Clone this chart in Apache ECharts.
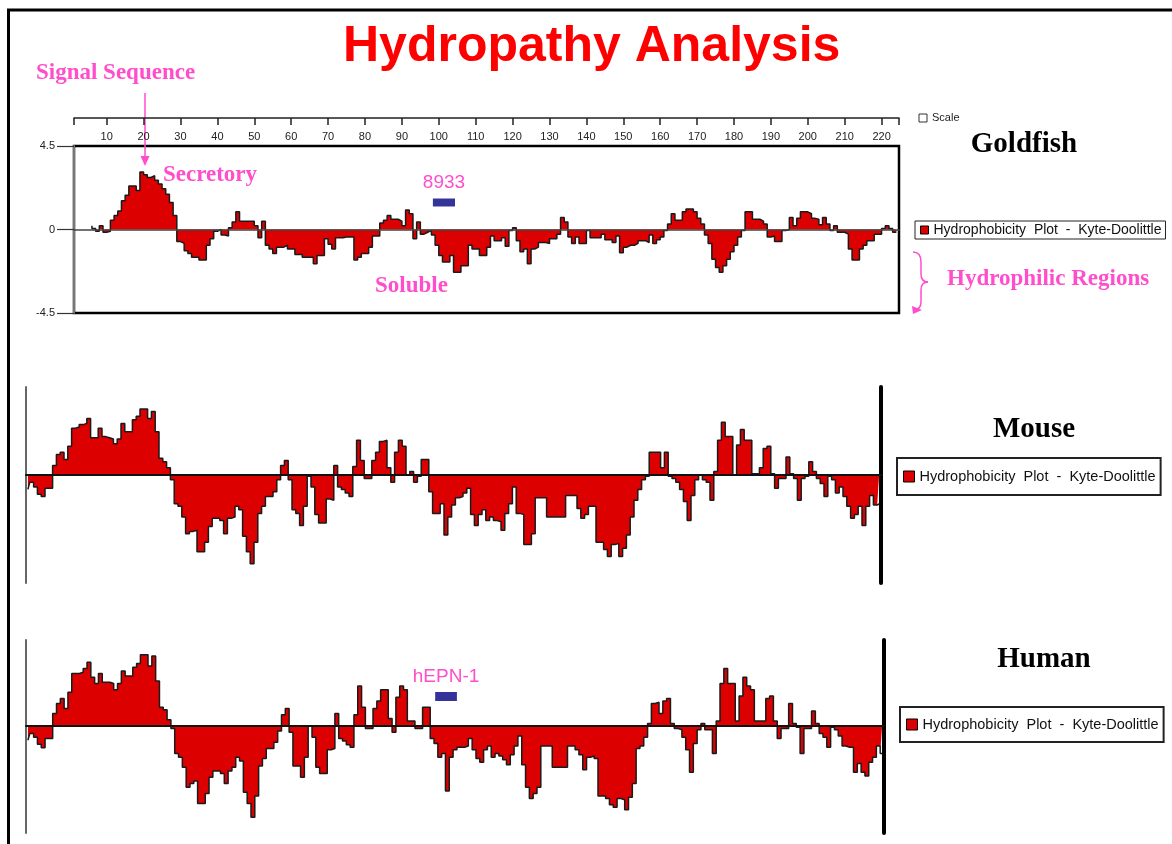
<!DOCTYPE html>
<html>
<head>
<meta charset="utf-8">
<script src="https://cdn.jsdelivr.net/npm/echarts@6/dist/echarts.min.js"></script>
<style>
  html, body { margin: 0; padding: 0; background: #fff; }
  #main { width: 1172px; height: 844px; }
</style>
</head>
<body>
<div id="main"></div>
<script>
// Kyte-Doolittle values, one per residue
var goldfishStart = 6;
var goldfishKD = [
  0.2, 0.05, -0.1, 0.2, -0.15, -0.1, 0.5, 0.75, 1.0, 1.55,
  1.85, 2.35, 2.35, 2.1, 3.1, 2.95, 2.8, 2.9, 2.65, 2.45,
  2.2, 1.9, 1.45, 0.75, -0.65, -0.75, -1.15, -1.3, -1.5, -1.5,
  -1.65, -1.65, -0.85, -0.5, -0.1, 0, -0.3, -0.35, 0.1, 0.4,
  0.95, 0.45, 0.45, 0.45, 0.45, 0.2, -0.45, 0.45, -0.85, -1.05,
  -1.3, -0.95, -0.95, -0.85, -1.05, -1.05, -1.35, -1.35, -1.5, -1.5,
  -1.5, -1.85, -1.4, -1.4, -0.5, -0.8, -1.05, -0.45, -0.45, -0.4,
  -0.4, -0.4, -1.65, -1.5, -1.3, -1.3, -0.95, -0.35, -0.35, 0.35,
  0.5, 0.75, 0.55, 0.55, 0.45, 0.2, 1.05, 0.85, -0.5, 0.4,
  -0.25, -0.15, -0.05, -0.3, -0.85, -1.4, -1.75, -1.75, -1.4, -2.3,
  -2.3, -1.95, -1.95, -0.85, -1.05, -1.05, -1.4, -1.4, -0.95, -0.35,
  -0.6, -0.6, -0.45, -0.9, -0.05, 0.1, -0.6, -1.2, -1.05, -1.85,
  -1.05, -0.95, -0.7, -0.7, -0.75, -0.5, -0.5, -0.25, 0.65, 0.4,
  -0.4, -0.75, -0.4, -0.75, -0.75, -0.05, -0.45, -0.45, -0.45, -0.25,
  -0.55, -0.55, -0.7, -0.35, -1.25, -0.95, -0.85, -0.85, -0.75, -0.6,
  -0.6, -0.7, -0.3, -0.75, -0.55, -0.4, -0.05, 0.3, 0.85, 0.5,
  0.5, 0.95, 1.1, 1.1, 0.95, 0.6, 0.3, -0.3, -0.75, -1.6,
  -2.05, -2.3, -1.95, -1.6, -1.2, -0.85, -0.4, -0.05, 0.95, 0.95,
  0.55, 0.55, 0.45, 0.3, -0.4, -0.35, -0.65, -0.65, -0.05, 0,
  0.65, 0.2, 0.6, 0.95, 0.95, 0.85, 0.6, 0.55, 0.25, 0.65,
  0.3, -0.05, 0.2, -0.15, -0.15, -0.25, -1.05, -1.65, -1.65, -1.05,
  -0.85, -0.6, -0.6, -0.25, -0.25, 0.05, 0.2, 0.05, -0.15
];

var mouseStart = 1;
var mouseKD = [
  -0.6, -0.3, -0.5, -0.8, -0.9, -0.55, -0.55, 0.4, 0.85, 0.95,
  0.65, 1.2, 1.95, 2.0, 2.1, 2.15, 2.35, 1.55, 1.55, 1.95,
  1.6, 1.55, 1.5, 1.3, 1.5, 2.15, 1.8, 1.8, 2.3, 2.45,
  2.75, 2.75, 2.35, 2.65, 1.8, 0.7, 0.55, 0.3, -0.2, -1.2,
  -1.3, -1.75, -2.45, -2.35, -2.3, -3.2, -3.2, -2.8, -2.15, -1.8,
  -1.8, -1.9, -2.45, -1.8, -1.75, -1.3, -1.45, -2.55, -3.2, -3.7,
  -2.8, -1.6, -1.3, -0.9, -0.9, -0.7, -0.2, 0.4, 0.6, -0.2,
  -1.45, -1.6, -2.1, -1.3, -0.05, -0.5, -1.65, -2.0, -2.0, -1.0,
  -1.05, 0.4, -0.5, -0.6, -0.75, -0.9, 0.35, 1.45, 0.6, -0.15,
  -0.15, 0.6, 0.95, 1.4, 1.45, 0.3, -0.3, 0.95, 1.45, 1.2,
  0, 0.15, -0.3, -0.05, 0.65, 0.65, -0.7, -1.6, -1.6, -1.2,
  -2.5, -1.75, -1.25, -0.95, -0.9, -0.75, -0.55, -1.65, -2.1, -1.65,
  -1.45, -1.9, -1.75, -1.9, -1.95, -2.3, -1.6, -1.2, -0.5, -1.6,
  -1.65, -2.9, -2.9, -2.45, -0.95, -0.95, -0.95, -1.75, -1.75, -1.75,
  -1.75, -1.75, -0.85, -0.85, -0.85, -1.4, -1.8, -1.65, -1.3, -1.3,
  -2.8, -2.8, -3.1, -3.4, -2.9, -2.85, -3.4, -3.05, -2.5, -1.75,
  -1.05, -0.6, -0.2, -0.05, 0.95, 0.95, 0.95, 0.3, 0.95, -0.05,
  -0.15, -0.3, -0.6, -1.1, -1.9, -0.85, -0.2, 0, -0.2, -0.3,
  -1.05, 0.15, 1.45, 2.2, 1.6, 1.6, 0, 1.25, 1.9, 1.45,
  1.45, 0.05, 0.05, 0.3, 1.1, 1.2, 0.05, -0.55, -0.15, -0.15,
  0.75, 0.05, -0.15, -1.05, -0.15, -0.05, 0.55, 0.15, -0.15, -0.35,
  -0.9, -0.05, -0.2, -0.75, -0.5, -0.9, -1.3, -1.8, -1.65, -1.3,
  -2.1, -1.3, -0.85, -1.25, -1.2
];

var humanStart = 1;
var humanKD = [
  -0.57, -0.3, -0.45, -0.73, -0.87, -0.5, -0.5, 0.5, 0.9, 1.1,
  0.7, 1.35, 2.1, 2.1, 2.15, 2.3, 2.55, 1.95, 1.7, 2.1,
  1.75, 1.75, 1.7, 1.45, 1.7, 2.2, 2.0, 2.0, 2.35, 2.5,
  2.85, 2.85, 2.4, 2.8, 1.8, 0.75, 0.65, 0.25, -0.1, -1.1,
  -1.25, -1.65, -2.45, -2.3, -2.2, -3.1, -3.1, -2.7, -2.05, -1.8,
  -1.8, -1.9, -2.3, -1.8, -1.65, -1.25, -1.4, -2.65, -3.1, -3.65,
  -2.8, -1.6, -1.3, -0.9, -0.9, -0.65, -0.2, 0.45, 0.7, -0.25,
  -1.6, -1.6, -2.05, -1.25, 0, -0.45, -1.65, -1.9, -1.9, -0.95,
  -0.9, 0.5, -0.5, -0.6, -0.75, -0.85, 0.45, 1.6, 0.75, -0.1,
  -0.1, 0.7, 1.0, 1.45, 1.45, 0.3, -0.25, 1.15, 1.6, 1.45,
  0.2, 0.2, -0.1, -0.1, 0.75, 0.75, -0.5, -0.7, -1.25, -1.1,
  -2.6, -1.25, -0.95, -0.85, -0.85, -0.8, -0.5, -0.95, -1.3, -1.45,
  -0.95, -0.8, -1.25, -1.1, -1.2, -1.35, -1.55, -1.15, -0.8, -0.4,
  -1.55, -2.45, -2.9, -2.7, -2.45, -0.8, -0.8, -0.8, -1.65, -1.65,
  -1.65, -1.65, -0.8, -0.8, -0.95, -1.15, -1.75, -1.25, -1.2, -1.3,
  -2.8, -2.8, -2.9, -3.15, -3.25, -2.9, -2.95, -3.35, -2.85, -2.3,
  -0.9, -0.8, -0.45, 0.1, 0.9, 0.95, 0.5, 1.0, 1.1, 0.1,
  -0.1, -0.15, -0.45, -0.95, -1.85, -0.7, -0.15, 0.1, -0.15, -0.15,
  -1.1, 0.2, 1.7, 2.3, 1.7, 1.7, 0.2, 1.2, 1.95, 1.6,
  1.45, 0.2, 0.2, 0.2, 1.1, 1.2, 0.2, -0.5, -0.1, -0.1,
  0.9, 0.1, -0.05, -1.1, -0.1, -0.1, 0.6, 0.1, -0.3, -0.45,
  -0.85, -0.05, -0.15, -0.4, -0.8, -0.85, -0.85, -1.85, -1.5, -1.85,
  -2.0, -1.45, -1.25, -0.8, -1.1
];

var residueTicks = [10, 20, 30, 40, 50, 60, 70, 80, 90, 100, 110,
  120, 130, 140, 150, 160, 170, 180, 190, 200, 210, 220];

// peptide markers: [fromResidue, toResidue, lowValue, highValue]
var peptide8933 = [98.4, 104.4, 1.24, 1.67];
var peptideHEPN1 = [107.8, 113.5, 1.0, 1.36];

var seriesName = 'Hydrophobicity  Plot  -  Kyte-Doolittle';
var pink = '#ff4dcc';
var red = '#dc0000';

function pairs(start, arr) {
  return arr.map(function (v, i) { return [start + i, v]; });
}

function peptideArea(p, label) {
  return {
    silent: true,
    itemStyle: { color: '#333399', opacity: 1 },
    label: { show: true, position: 'top', distance: 6, color: pink, fontSize: 19, fontFamily: 'Liberation Sans, Arial' },
    data: [[{ name: label, xAxis: p[0], yAxis: p[3] }, { xAxis: p[1], yAxis: p[2] }]]
  };
}

function plotSeries(data, xi, yi, step, area) {
  var s = {
    name: seriesName,
    type: 'line',
    step: step,
    xAxisIndex: xi,
    yAxisIndex: yi,
    symbol: 'none',
    data: data,
    lineStyle: { color: '#1a1a1a', width: 1.5 },
    itemStyle: { color: red },
    areaStyle: { color: red, opacity: 1 }
  };
  if (area) s.markArea = area;
  return s;
}

function legendBox(left, top, pad, size, fontSize, bw) {
  return {
    data: [seriesName],
    left: left, top: top,
    padding: pad,
    borderColor: '#222', borderWidth: bw,
    icon: 'rect', itemWidth: size, itemHeight: size,
    itemStyle: { color: red, borderColor: '#000', borderWidth: 1 },
    selectedMode: false,
    textStyle: { fontSize: fontSize, fontFamily: 'Liberation Sans, Arial', color: '#111' }
  };
}

var zeroAxis = function (grid, min, max, color, width) {
  return {
    gridIndex: grid, type: 'value', min: min, max: max, z: 5,
    axisLine: { onZero: true, lineStyle: { color: color, width: width } },
    axisTick: { show: false }, axisLabel: { show: false }, splitLine: { show: false }
  };
};

var sideAxis = function (grid, min, max, pos, color, width) {
  return {
    gridIndex: grid, type: 'value', min: min, max: max, position: pos,
    axisLine: { show: true, onZero: false, lineStyle: { color: color, width: width } },
    axisTick: { show: false }, axisLabel: { show: false }, splitLine: { show: false }
  };
};

function pinkCurve(x1, y1, cx, cy, x2, y2) {
  return { type: 'bezierCurve', shape: { x1: x1, y1: y1, cpx1: cx, cpy1: cy, x2: x2, y2: y2 },
    style: { stroke: pink, fill: null, lineWidth: 1.5 } };
}
function pinkLine(x1, y1, x2, y2) {
  return { type: 'line', shape: { x1: x1, y1: y1, x2: x2, y2: y2 }, style: { stroke: pink, lineWidth: 1.5 } };
}
function note(text, x, y) {
  return { type: 'text', x: x, y: y, style: { text: text, fill: pink, font: 'bold 23px "Liberation Serif", serif', verticalAlign: 'middle' } };
}
function species(text, x, y) {
  return { type: 'text', x: x, y: y, style: { text: text, fill: '#000', font: 'bold 29px "Liberation Serif", serif', align: 'center', verticalAlign: 'middle' } };
}

var gfMin = 1.14, gfMax = 224.72;

var myChart = echarts.init(document.getElementById('main'));
var option = {
  animation: false,
  backgroundColor: '#fff',
  title: {
    text: 'Hydropathy Analysis',
    left: 338,
    top: 17,
    textStyle: { color: '#ff0000', fontSize: 50, fontWeight: 'bold', fontFamily: 'Liberation Sans, Arial' }
  },
  legend: [
    legendBox(915, 221, [2, 4, 2, 5], 8, 14, 1),
    legendBox(897, 458, [11, 5, 11, 6], 11, 14.5, 2),
    legendBox(900, 707, [10, 5, 10, 6], 11, 14.5, 2)
  ],
  grid: [
    { left: 74, top: 146, width: 825, height: 167, show: true, borderColor: '#000', borderWidth: 2.5 },
    { left: 26, top: 387, width: 855, height: 196 },
    { left: 26, top: 640, width: 858, height: 193 }
  ],
  xAxis: [
    zeroAxis(0, gfMin, gfMax, '#444', 1.5),
    {
      gridIndex: 0, type: 'value', min: gfMin, max: gfMax, position: 'top', offset: 28,
      axisLine: { onZero: false, lineStyle: { color: '#222', width: 1.5 } },
      axisTick: { inside: true, length: 7, customValues: [gfMin].concat(residueTicks, [gfMax]), lineStyle: { color: '#222', width: 1.5 } },
      axisLabel: { inside: true, margin: 13, customValues: residueTicks, fontSize: 11, color: '#222', fontFamily: 'Liberation Sans, Arial' },
      splitLine: { show: false }
    },
    zeroAxis(1, 0.5, 225.5, '#111', 2),
    zeroAxis(2, 0.5, 225.5, '#111', 2)
  ],
  yAxis: [
    {
      gridIndex: 0, type: 'value', min: -4.5, max: 4.5, interval: 4.5,
      axisLine: { show: true, onZero: false, lineStyle: { color: '#777', width: 2 } },
      axisTick: { show: true, length: 17, lineStyle: { color: '#333', width: 1.2 } },
      axisLabel: { margin: 19, fontSize: 11, color: '#222', fontFamily: 'Liberation Sans, Arial' },
      splitLine: { show: false }
    },
    sideAxis(1, -4.5, 3.667, 'left', '#666', 2),
    sideAxis(1, -4.5, 3.667, 'right', '#000', 4),
    sideAxis(2, -4.28, 3.44, 'left', '#666', 2),
    sideAxis(2, -4.28, 3.44, 'right', '#000', 4)
  ],
  series: [
    plotSeries(pairs(goldfishStart, goldfishKD), 0, 0, 'start', peptideArea(peptide8933, '8933')),
    plotSeries(pairs(mouseStart, mouseKD), 2, 1, 'middle'),
    plotSeries(pairs(humanStart, humanKD), 3, 3, 'middle', peptideArea(peptideHEPN1, 'hEPN-1'))
  ],
  graphic: [
    // page frame
    { type: 'line', shape: { x1: 7, y1: 10, x2: 1172, y2: 10 }, style: { stroke: '#000', lineWidth: 3 } },
    { type: 'line', shape: { x1: 8.5, y1: 9, x2: 8.5, y2: 844 }, style: { stroke: '#000', lineWidth: 3 } },
    // signal sequence arrow
    pinkLine(145, 93, 145, 159),
    { type: 'polygon', shape: { points: [[140.5, 156], [149.5, 156], [145, 166]] }, style: { fill: pink } },
    // hydrophilic brace
    pinkCurve(913, 252, 921, 252, 921, 262),
    pinkLine(921, 262, 921, 274),
    pinkCurve(921, 274, 921, 282, 928, 282),
    pinkCurve(928, 282, 921, 282, 921, 290),
    pinkLine(921, 290, 921, 302),
    pinkCurve(921, 302, 921, 310, 913, 310),
    { type: 'polygon', shape: { points: [[912, 306], [922, 310], [913, 314]] }, style: { fill: pink } },
    // scale key
    { type: 'rect', shape: { x: 919, y: 114, width: 8, height: 8 }, style: { fill: '#fff', stroke: '#333', lineWidth: 1 } },
    { type: 'text', x: 932, y: 118, style: { text: 'Scale', fill: '#222', font: '11px "Liberation Sans", Arial', verticalAlign: 'middle' } },
    // annotations
    note('Signal Sequence', 36, 73),
    note('Secretory', 163, 175),
    note('Soluble', 375, 286),
    note('Hydrophilic Regions', 947, 279),
    // species names
    species('Goldfish', 1024, 145),
    species('Mouse', 1034, 430),
    species('Human', 1044, 660)
  ]
};
myChart.setOption(option);
</script>
</body>
</html>
